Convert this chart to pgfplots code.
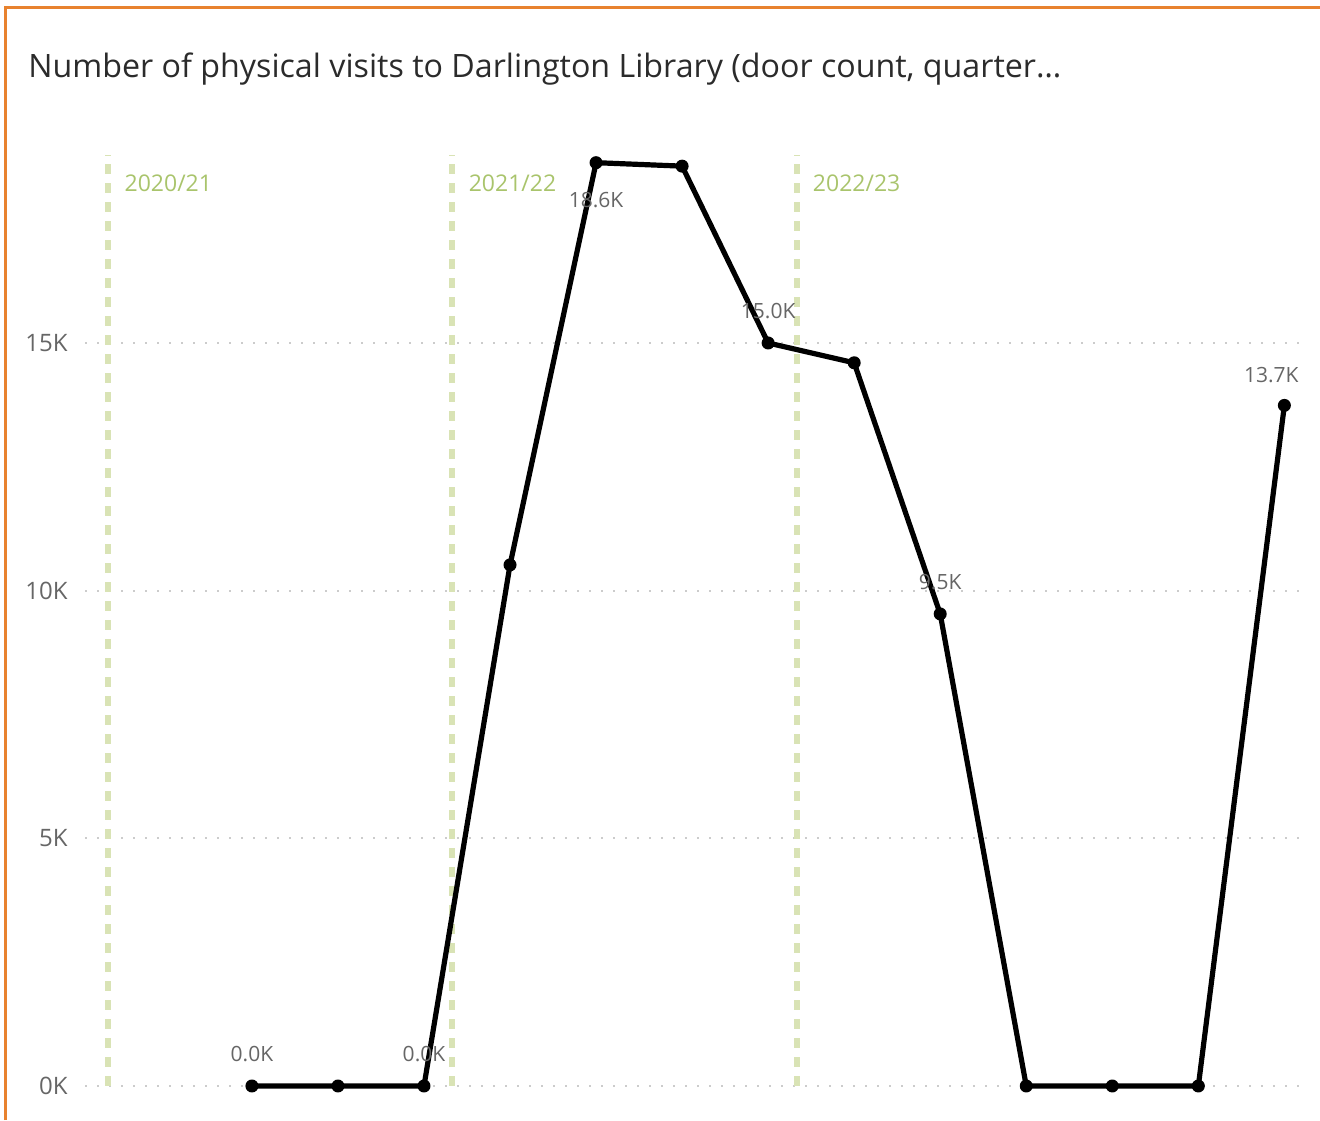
\documentclass[border=0pt]{standalone}
\usepackage{fontspec}
\setmainfont{Open Sans}
\usepackage{pgfplots}
\pgfplotsset{compat=1.18}
\usepackage{pgfplotstable}

\definecolor{frameorange}{HTML}{E8822E}
\definecolor{yearline}{HTML}{D9E3B5}
\definecolor{yeartext}{HTML}{A9C46C}
\definecolor{titlegray}{HTML}{2B2B2B}
\definecolor{labelgray}{HTML}{666666}

% quarterly door counts, quarters numbered 0..12
\pgfplotstableread{
x y
0 0
1 0
2 0
3 10520
4 18640
5 18570
6 15000
7 14600
8 9530
9 0
10 0
11 0
12 13740
}\visits

\begin{document}
\begin{tikzpicture}
\path[use as bounding box] (0,0) rectangle (660pt,560pt);
\draw[frameorange, line width=1.5pt] (2.75pt,0) -- (2.75pt,556pt) -- (660pt,556pt);
\node[anchor=base west, inner sep=0pt, font=\fontsize{16.1}{20}\selectfont, text=titlegray]
  at (14pt,521pt) {Number of physical visits to Darlington Library (door count, quarter\dots};

\begin{axis}[
  at={(42.5pt,10pt)}, anchor=south west,
  scale only axis, width=610pt, height=475pt,
  xmin=-1.94, xmax=12.24,
  ymin=-283, ymax=18896,
  clip=false,
  axis line style={draw=none},
  tick style={draw=none},
  xtick=\empty,
  ytick={0,5000,10000,15000},
  yticklabels={0K,5K,10K,15K},
  scaled y ticks=false,
  yticklabel style={anchor=east, inner sep=0pt, xshift=-8.5pt,
    font=\fontsize{12}{14}\selectfont, text=labelgray},
  ymajorgrids,
  major grid style={gray!40, line width=1pt, dash pattern=on 0.8pt off 5.2pt},
  /pgf/number format/assume math mode=true,
]
% fiscal year boundaries
\addplot[yearline, line width=3pt, dash pattern=on 5pt off 4.5pt] coordinates {(-1.67,0) (-1.67,18800)};
\addplot[yearline, line width=3pt, dash pattern=on 5pt off 4.5pt] coordinates {(2.33,0) (2.33,18800)};
\addplot[yearline, line width=3pt, dash pattern=on 5pt off 4.5pt] coordinates {(6.33,0) (6.33,18800)};
\node[anchor=base west, inner sep=0pt, text=yeartext, font=\fontsize{11.5}{14}\selectfont, xshift=8pt]
  at (axis cs:-1.67,18050) {2020/21};
\node[anchor=base west, inner sep=0pt, text=yeartext, font=\fontsize{11.5}{14}\selectfont, xshift=8pt]
  at (axis cs:2.33,18050) {2021/22};
\node[anchor=base west, inner sep=0pt, text=yeartext, font=\fontsize{11.5}{14}\selectfont, xshift=8pt]
  at (axis cs:6.33,18050) {2022/23};

\addplot[black, line width=2.6pt, line join=round, mark=*, mark size=2.9pt,
  mark options={line width=0.7pt}] table {\visits};

% data labels
\addplot[draw=none, no markers, nodes near coords, point meta=explicit symbolic,
  nodes near coords style={anchor=center, yshift=15.75pt, text=labelgray, font=\fontsize{10.5}{12}\selectfont}]
  table[meta=label] {
x y label
0 0 0.0K
2 0 0.0K
6 15000 15.0K
8 9530 9.5K
};
\addplot[draw=none, no markers, nodes near coords, point meta=explicit symbolic,
  nodes near coords style={anchor=center, yshift=-18.5pt, text=labelgray, font=\fontsize{10.5}{12}\selectfont}]
  table[meta=label] {
x y label
4 18640 18.6K
};
\addplot[draw=none, no markers, nodes near coords, point meta=explicit symbolic,
  nodes near coords style={anchor=center, yshift=15pt, xshift=-6.5pt, text=labelgray, font=\fontsize{10.5}{12}\selectfont}]
  table[meta=label] {
x y label
12 13740 13.7K
};
\end{axis}
\end{tikzpicture}
\end{document}
